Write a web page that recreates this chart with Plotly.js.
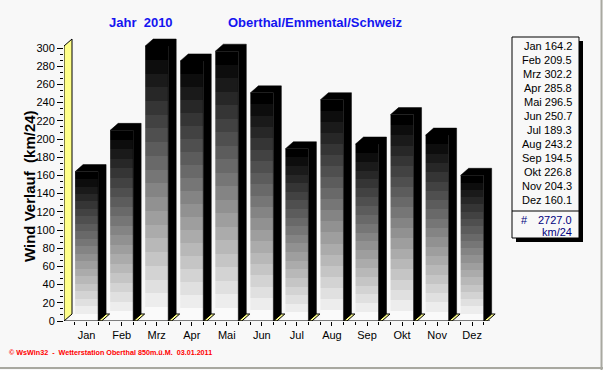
<!DOCTYPE html>
<html>
<head>
<meta charset="utf-8">
<script src="https://cdn.plot.ly/plotly-3.0.1.min.js"></script>
<style>html,body{margin:0;padding:0;background:#f8f8f8;}#chart{width:603px;height:370px;}</style>
</head>
<body>
<div id="chart"></div>
<script>
// ---- data ----
const months = ['Jan','Feb','Mrz','Apr','Mai','Jun','Jul','Aug','Sep','Okt','Nov','Dez'];
const values = [164.2, 209.5, 302.2, 285.8, 296.5, 250.7, 189.3, 243.2, 194.5, 226.8, 204.3, 160.1];
const yTickVals = [0,20,40,60,80,100,120,140,160,180,200,220,240,260,280,300];
const totalText = '2727.0';
const unitText = 'km/24';
const titleYear = 'Jahr\u00a0\u00a02010';
const titlePlace = 'Oberthal/Emmental/Schweiz';
const yTitle = 'Wind Verlauf\u00a0\u00a0(km/24)';
const footer = '\u00a9 WsWin32  -  Wetterstation Oberthal 850m.\u00fc.M.\u00a0\u00a003.01.2011';

// ---- geometry (pixels -> paper) ----
const W = 603, H = 370;
const fx = p => p / W;
const fy = p => 1 - p / H;
const pxPerY = 0.91;            // pixels per unit on y
const pxPerX = 35.05;           // pixels per category
const c0 = 86.6;                // pixel x of first category centre (front)
const frontL = 64, frontR = 500, frontB = 321, frontT = 36;
const yMax = 302.2;             // height of walls (axis units)
const dx = 8 / pxPerX, dy = 7 / pxPerY;   // 3D depth offset
const hw = 0.328;               // half width of bar front
const fw = 0.1;                 // floor piece width
const xl = -(c0 - frontL) / pxPerX;
const xr = (frontR - c0) / pxPerX;
const font = 'Liberation Sans, Arial, sans-serif';

// stepped grey gradient (white bottom -> black top)
const N = 20, bandScale = [];
for (let k = 0; k < N; k++) {
  const g = Math.round(250 * (1 - k / (N - 1)));
  const col = `rgb(${g},${g},${g})`;
  bandScale.push([k / N, col]);
  bandScale.push([(k + 1) / N, col]);
}

const traces = [];
// left wall
traces.push({
  x: [xl, xl, xl + dx, xl + dx, xl], y: [0, yMax, yMax + dy, dy, 0],
  xaxis: 'x2', yaxis: 'y2', mode: 'lines', fill: 'toself',
  fillcolor: '#ffff88', line: {color: 'black', width: 1}, hoverinfo: 'skip', showlegend: false
});
// floor pieces
const flX = [], flY = [];
values.forEach((v, i) => {
  const x1 = i + hw;
  flX.push(x1, x1 + fw, x1 + fw + dx, x1 + dx, x1, null);
  flY.push(0, 0, dy, dy, 0, null);
});
traces.push({x: flX, y: flY, xaxis: 'x2', yaxis: 'y2', mode: 'lines', fill: 'toself',
  fillcolor: '#ffff88', line: {color: 'black', width: 1}, hoverinfo: 'skip', showlegend: false});
// front faces with gradient
values.forEach((v, i) => {
  const x0 = i - hw, x1 = i + hw;
  traces.push({
    x: [x0, x1, x1, x0, x0], y: [0, 0, v, v, 0],
    xaxis: 'x2', yaxis: 'y2', mode: 'lines', fill: 'toself',
    fillgradient: {type: 'vertical', colorscale: bandScale, start: 0, stop: v},
    line: {width: 0}, hoverinfo: 'skip', showlegend: false
  });
});
// top + side faces
const sdX = [], sdY = [];
values.forEach((v, i) => {
  const x0 = i - hw, x1 = i + hw;
  sdX.push(x0, x0 + dx, x1 + dx, x1 + dx, x1, x1, x0, null);
  sdY.push(v, v + dy, v + dy, dy, 0, v, v, null);
});
traces.push({x: sdX, y: sdY, xaxis: 'x2', yaxis: 'y2', mode: 'lines', fill: 'toself',
  fillcolor: 'black', line: {color: 'black', width: 0.5}, hoverinfo: 'skip', showlegend: false});

// minor tick positions
const xMinor = [];
for (let k = -2; k <= 34; k++) xMinor.push(k / 3);
const yMinor = [];
for (let k = 0; k <= 45; k++) yMinor.push(k * 20 / 3);

const shapes = [
  // front x axis line
  {type: 'line', xref: 'paper', yref: 'y2', x0: fx(frontL), x1: fx(490), y0: 0, y1: 0, line: {color: 'black', width: 1}},
  // legend shadow + box
  {type: 'rect', xref: 'paper', yref: 'paper', x0: fx(516), x1: fx(583), y0: fy(242), y1: fy(41), fillcolor: '#000', line: {width: 0}},
  {type: 'rect', xref: 'paper', yref: 'paper', x0: fx(512), x1: fx(579), y0: fy(238), y1: fy(37), fillcolor: '#f8f8f8', line: {color: 'black', width: 1}},
  {type: 'line', xref: 'paper', yref: 'paper', x0: fx(512), x1: fx(579), y0: fy(211), y1: fy(211), line: {color: 'black', width: 1}},
  // window border
  {type: 'line', xref: 'paper', yref: 'paper', x0: fx(601.5), x1: fx(601.5), y0: 0, y1: 1, line: {color: '#a8a8a0', width: 2}},
  {type: 'line', xref: 'paper', yref: 'paper', x0: 0, x1: 1, y0: fy(368), y1: fy(368), line: {color: '#a8a8a0', width: 2}}
];

function ann(text, px, py, opts) {
  return Object.assign({text: text, x: fx(px), y: fy(py), xref: 'paper', yref: 'paper',
    showarrow: false, xanchor: 'center', yanchor: 'middle'}, opts);
}
const annotations = [
  ann('<b>' + titleYear + '</b>', 141, 22, {font: {family: font, size: 13, color: '#1414f0'}}),
  ann('<b>' + titlePlace + '</b>', 315.5, 22, {font: {family: font, size: 13, color: '#1414f0'}}),
  ann('<b>' + yTitle + '</b>', 29, 186, {textangle: -90, font: {family: font, size: 15, color: 'black'}}),
  ann('<b>' + footer + '</b>', 7, 352, {xanchor: 'left', font: {family: font, size: 7.2, color: '#ff0000'}}),
  ann('#', 519, 220, {xanchor: 'left', font: {family: font, size: 11, color: '#000080'}}),
  ann(totalText, 574, 220, {xanchor: 'right', font: {family: font, size: 11, color: '#000080'}}),
  ann(unitText, 574, 232, {xanchor: 'right', font: {family: font, size: 11, color: '#000080'}})
];
months.forEach((m, i) => {
  annotations.push(ann(m + ' ' + values[i].toFixed(1), 574, 45.7 + i * 14.03,
    {xanchor: 'right', font: {family: font, size: 11, color: 'black'}}));
});

const layout = {
  width: W, height: H, margin: {l: 0, r: 0, t: 0, b: 0},
  paper_bgcolor: '#f8f8f8', plot_bgcolor: 'rgba(0,0,0,0)', showlegend: false,
  font: {family: font, size: 11, color: 'black'},
  // back wall
  xaxis: {domain: [fx(72), fx(496)], range: [-0.5, 11.6], anchor: 'y', side: 'top',
    tickmode: 'linear', tick0: 0, dtick: 1, showticklabels: false, ticks: '',
    showgrid: true, gridcolor: '#808080', gridwidth: 1, griddash: '5px,4px',
    zeroline: false, showline: true, linecolor: 'black', linewidth: 1, fixedrange: true},
  yaxis: {domain: [fy(314), fy(39)], range: [0, yMax], anchor: 'x', side: 'right',
    tickmode: 'linear', tick0: 0, dtick: 20, showticklabels: false, ticks: '',
    showgrid: true, gridcolor: '#808080', gridwidth: 1, griddash: '5px,4px',
    zeroline: false, showline: true, linecolor: 'black', linewidth: 1, fixedrange: true},
  // front axes
  xaxis2: {domain: [fx(frontL), fx(frontR)], range: [xl, xr], anchor: 'y2',
    tickmode: 'array', tickvals: months.map((m, i) => i), ticktext: months,
    ticks: 'outside', ticklen: 4, tickcolor: 'black', tickwidth: 1,
    minor: {tickmode: 'array', tickvals: xMinor, ticks: 'outside', ticklen: 3, tickcolor: 'black', showgrid: false},
    showgrid: false, zeroline: false, showline: false, tickfont: {family: font, size: 11}, fixedrange: true},
  yaxis2: {domain: [fy(frontB), fy(frontT)], range: [0, (frontB - frontT) / pxPerY], anchor: 'x2',
    tickmode: 'array', tickvals: yTickVals,
    ticks: 'outside', ticklen: 6, tickcolor: 'black', tickwidth: 1,
    minor: {tickmode: 'array', tickvals: yMinor.filter(v => v <= 300), ticks: 'outside', ticklen: 3, tickcolor: 'black', showgrid: false},
    showgrid: false, zeroline: false, showline: false, tickfont: {family: font, size: 11}, fixedrange: true},
  shapes: shapes, annotations: annotations
};

Plotly.newPlot('chart', traces, layout, {displayModeBar: false, staticPlot: true});
</script>
</body>
</html>
